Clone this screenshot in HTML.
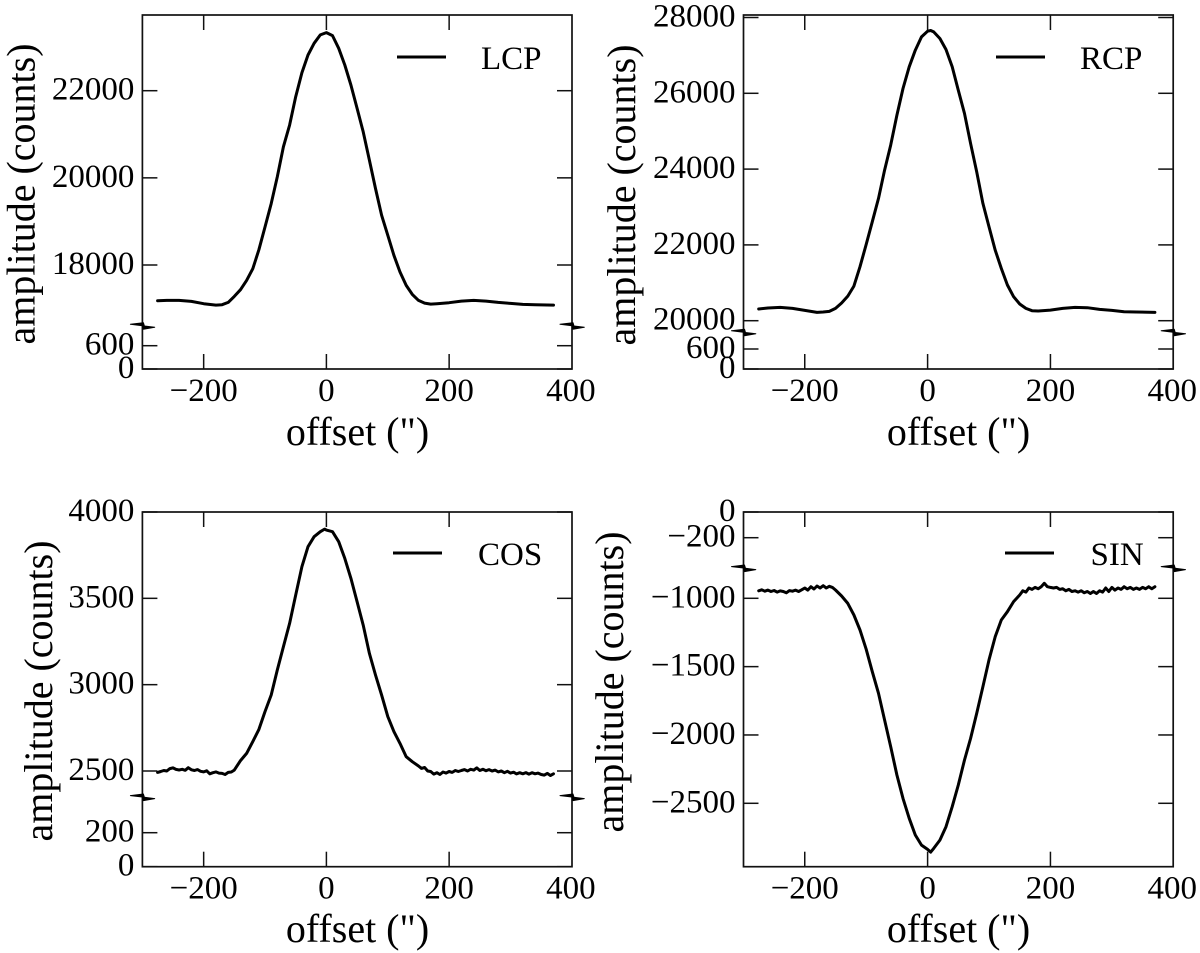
<!DOCTYPE html>
<html lang="en">
<head>
<meta charset="utf-8">
<title>Amplitude versus offset for LCP, RCP, COS and SIN</title>
<style>
html,body{margin:0;padding:0;background:#fff;width:1200px;height:953px;overflow:hidden}
svg{display:block}
text{font-family:"Liberation Serif",serif;fill:#000}
.tick-label{font-size:33px}
.axis-title{font-size:40px}
.legend-text{font-size:33px}
.frame{fill:none;stroke:#111;stroke-width:1.7}
.tick{stroke:#111;stroke-width:1.5}
.curve{fill:none;stroke:#000;stroke-width:3;stroke-linejoin:round;stroke-linecap:round}
.legend-line{stroke:#000;stroke-width:3}
</style>
</head>
<body>
<svg id="figure" xmlns="http://www.w3.org/2000/svg" width="1200" height="953" viewBox="0 0 1200 953">
  <rect width="1200" height="953" fill="#fff"/>

  <g id="panel-lcp">
    <rect class="frame" x="142.4" y="15" width="429.6" height="354"/>
    <text class="axis-title" transform="translate(34.5,194) rotate(-90)" text-anchor="middle">amplitude (counts)</text>
    <text class="axis-title" x="357.5" y="445" text-anchor="middle">offset (")</text>
    <line class="legend-line" x1="397" x2="446" y1="57" y2="57"/>
    <text class="legend-text" x="481" y="69">LCP</text>
  </g>

  <g id="panel-rcp">
    <rect class="frame" x="743.5" y="15" width="429.7" height="354"/>
    <text class="axis-title" transform="translate(635,195) rotate(-90)" text-anchor="middle">amplitude (counts)</text>
    <text class="axis-title" x="958.5" y="445" text-anchor="middle">offset (")</text>
    <line class="legend-line" x1="996" x2="1045" y1="57" y2="57"/>
    <text class="legend-text" x="1080" y="69">RCP</text>
  </g>

  <g id="panel-cos">
    <rect class="frame" x="142.4" y="512" width="429.6" height="354.7"/>
    <text class="axis-title" transform="translate(52,691) rotate(-90)" text-anchor="middle">amplitude (counts)</text>
    <text class="axis-title" x="357.5" y="942" text-anchor="middle">offset (")</text>
    <line class="legend-line" x1="393" x2="442" y1="553" y2="553"/>
    <text class="legend-text" x="478" y="565">COS</text>
  </g>

  <g id="panel-sin">
    <rect class="frame" x="743.5" y="512" width="429.7" height="354.7"/>
    <text class="axis-title" transform="translate(623,682) rotate(-90)" text-anchor="middle">amplitude (counts)</text>
    <text class="axis-title" x="958.5" y="942" text-anchor="middle">offset (")</text>
    <line class="legend-line" x1="1005" x2="1054" y1="553" y2="553"/>
    <text class="legend-text" x="1090.5" y="565">SIN</text>
  </g>
</svg>

<script>
// ---- shared x axis ----
const xTickValues = [-200, 0, 200, 400];
const xTickLabels = ['\u2212200', '0', '200', '400'];

// ---- LCP ----
const lcpOffsets = [-275,-260,-240,-220,-200,-180,-170,-160,-150,-140,-130,-120,-110,-100,-90,-80,-70,-60,-50,-40,-30,-20,-10,0,10,20,30,40,50,60,70,80,90,100,110,120,130,140,150,160,170,180,200,220,240,260,280,300,320,340,370];
const lcpValues = [17180,17188,17188,17165,17111,17080,17088,17142,17280,17433,17647,17916,18352,18873,19410,20023,20713,21211,21862,22414,22820,23088,23280,23333,23264,22973,22590,22130,21594,21057,20406,19755,19142,18682,18222,17839,17532,17326,17188,17126,17103,17111,17134,17172,17188,17172,17142,17118,17095,17088,17080];
const lcpTickValues = [0, 600, 18000, 20000, 22000];
const lcpTickLabels = ['0', '600', '18000', '20000', '22000'];

// ---- RCP ----
const rcpOffsets = [-275,-260,-240,-220,-200,-180,-170,-160,-150,-140,-130,-120,-110,-100,-90,-80,-70,-60,-50,-40,-30,-20,-10,0,5,10,20,30,40,50,60,70,80,90,100,110,120,130,140,150,160,170,180,200,220,240,260,280,300,320,340,370];
const rcpValues = [20308,20334,20352,20325,20272,20220,20229,20246,20325,20466,20650,20914,21424,22013,22611,23226,23973,24632,25423,26127,26698,27137,27489,27639,27656,27621,27445,27155,26698,26083,25467,24676,23929,23094,22479,21863,21380,20941,20633,20440,20325,20264,20255,20281,20325,20352,20343,20299,20272,20237,20229,20220];
const rcpTickValues = [0, 600, 20000, 22000, 24000, 26000, 28000];
const rcpTickLabels = ['0', '600', '20000', '22000', '24000', '26000', '28000'];

// ---- COS ----
const cosOffsets = [-275,-270,-265,-260,-255,-250,-245,-240,-235,-230,-225,-220,-215,-210,-205,-200,-195,-190,-185,-180,-175,-170,-165,-160,-155,-150,-140,-130,-120,-110,-100,-90,-80,-70,-60,-50,-40,-30,-20,-10,-3,0,10,20,30,40,50,60,70,80,90,100,110,120,130,140,150,155,160,165,170,175,180,185,190,195,200,205,210,215,220,225,230,235,240,245,250,255,260,265,270,275,280,285,290,295,300,305,310,315,320,325,330,335,340,345,350,355,360,365,370];
const cosValues = [2492,2497,2503,2500,2514,2518,2509,2506,2510,2504,2519,2507,2503,2508,2498,2495,2501,2484,2490,2495,2488,2486,2480,2492,2494,2505,2560,2602,2670,2741,2844,2940,3085,3220,3355,3519,3683,3799,3857,3886,3901,3895,3886,3828,3731,3616,3480,3345,3181,3056,2940,2815,2728,2660,2583,2554,2529,2515,2520,2500,2497,2482,2490,2480,2494,2488,2497,2492,2503,2497,2503,2508,2500,2510,2505,2518,2503,2510,2502,2508,2500,2505,2495,2500,2490,2498,2488,2493,2483,2490,2484,2491,2482,2490,2484,2488,2480,2476,2486,2474,2484];
const cosTickValues = [0, 200, 2500, 3000, 3500, 4000];
const cosTickLabels = ['0', '200', '2500', '3000', '3500', '4000'];

// ---- SIN ----
const sinOffsets = [-275,-270,-265,-260,-255,-250,-245,-240,-235,-230,-225,-220,-215,-210,-205,-200,-195,-190,-185,-180,-175,-170,-165,-160,-155,-150,-140,-130,-120,-110,-100,-90,-80,-70,-60,-50,-40,-30,-20,-10,0,5,10,20,30,40,50,60,70,80,90,100,110,120,130,140,150,155,160,165,170,175,180,185,190,195,200,205,210,215,220,225,230,235,240,245,250,255,260,265,270,275,280,285,290,295,300,305,310,315,320,325,330,335,340,345,350,355,360,365,370];
const sinValues = [-945,-938,-948,-940,-950,-943,-955,-946,-950,-960,-944,-948,-940,-950,-938,-925,-940,-915,-932,-910,-925,-908,-925,-912,-920,-939,-983,-1037,-1122,-1232,-1373,-1537,-1695,-1891,-2086,-2293,-2464,-2610,-2732,-2806,-2837,-2857,-2830,-2769,-2671,-2525,-2366,-2183,-2025,-1842,-1647,-1451,-1281,-1159,-1098,-1024,-976,-945,-955,-925,-935,-920,-930,-915,-890,-915,-920,-925,-920,-935,-930,-945,-935,-950,-945,-955,-945,-960,-950,-965,-950,-965,-945,-955,-925,-950,-920,-940,-925,-935,-915,-930,-920,-935,-925,-935,-920,-930,-915,-930,-915];
const sinTickValues = [-2500, -2000, -1500, -1000, -200, 0];
const sinTickLabels = ['\u22122500', '\u22122000', '\u22121500', '\u22121000', '\u2212200', '0'];

const NS = 'http://www.w3.org/2000/svg';

function make(tag, parent, props, text) {
  const el = document.createElementNS(NS, tag);
  for (const k in props) el.setAttribute(k, props[k]);
  if (text !== undefined) el.textContent = text;
  parent.appendChild(el);
  return el;
}

// A y axis with a break: two linear pieces joined at splitValue.
function brokenScale(splitValue, lowA, lowAy, lowB, lowBy, highA, highAy, highB, highBy) {
  return function (v) {
    if (v < splitValue) return lowAy + (v - lowA) * (lowBy - lowAy) / (lowB - lowA);
    return highAy + (v - highA) * (highBy - highAy) / (highB - highA);
  };
}

function linearX(zeroPx, pxPerUnit) {
  return function (o) { return zeroPx + o * pxPerUnit; };
}

function drawPanel(opts) {
  const g = document.getElementById(opts.id);
  const name = opts.name;
  const x = opts.x, y = opts.y;

  opts.yTicks.forEach(function (v, i) {
    const py = y(v);
    const left = make('line', g, { class: 'tick', x1: opts.left, x2: opts.left + 15, y1: py, y2: py });
    
    
    const right = make('line', g, { class: 'tick', x1: opts.right - 15, x2: opts.right, y1: py, y2: py });
    
    
    const label = make('text', g, { class: 'tick-label', x: opts.left - 8, y: py + 9, 'text-anchor': 'end' }, opts.yLabels[i]);
    
    
  });

  xTickValues.forEach(function (v, i) {
    const px = x(v);
    if (i < xTickValues.length - 1) {
      const bottom = make('line', g, { class: 'tick', x1: px, x2: px, y1: opts.bottom - 15, y2: opts.bottom });
      
      
      const top = make('line', g, { class: 'tick', x1: px, x2: px, y1: opts.top, y2: opts.top + 15 });
      
      
    }
    const label = make('text', g, { class: 'tick-label', x: px - (v === 400 ? 1 : 0), y: opts.bottom + 32, 'text-anchor': 'middle' }, xTickLabels[i]);
    
    
  });

  [opts.left, opts.right].forEach(function (ax, i) {
    const by = opts.breakY;
    const d = 'M' + (ax - 12) + ' ' + (by - 1.7) +
      'L' + (ax + 1) + ' ' + (by - 3.3) +
      'L' + (ax + 2) + ' ' + by +
      'L' + (ax + 12.3) + ' ' + (by + 1.3) +
      'L' + (ax + 1) + ' ' + (by + 3.3) +
      'L' + ax + ' ' + (by - 0.3) + 'Z';
    const mark = make('path', g, { d: d, fill: '#000', stroke: '#000', 'stroke-width': '1', 'stroke-linejoin': 'round' });
    
    
  });

  const pts = opts.offsets.map(function (o, i) {
    return x(o).toFixed(1) + ',' + y(opts.values[i]).toFixed(1);
  }).join(' ');
  const curve = make('polyline', g, { class: 'curve', points: pts });
  
  
}

drawPanel({
  id: 'panel-lcp', name: 'lcp',
  left: 142.4, right: 572, top: 15, bottom: 369, breakY: 326,
  x: linearX(326.4, 0.6137),
  y: brokenScale(5000, 0, 369, 600, 345.7, 18000, 265, 22000, 90.7),
  yTicks: lcpTickValues, yLabels: lcpTickLabels,
  offsets: lcpOffsets, values: lcpValues
});

drawPanel({
  id: 'panel-rcp', name: 'rcp',
  left: 743.5, right: 1173.2, top: 15, bottom: 369, breakY: 332.5,
  x: linearX(927.6, 0.6142),
  y: brokenScale(5000, 0, 369, 600, 349, 20000, 320.7, 26000, 93.3),
  yTicks: rcpTickValues, yLabels: rcpTickLabels,
  offsets: rcpOffsets, values: rcpValues
});

drawPanel({
  id: 'panel-cos', name: 'cos',
  left: 142.4, right: 572, top: 512, bottom: 866.7, breakY: 797.3,
  x: linearX(326.4, 0.6137),
  y: brokenScale(1000, 0, 866.7, 200, 832.7, 2500, 771, 4000, 512),
  yTicks: cosTickValues, yLabels: cosTickLabels,
  offsets: cosOffsets, values: cosValues
});

drawPanel({
  id: 'panel-sin', name: 'sin',
  left: 743.5, right: 1173.2, top: 512, bottom: 866.7, breakY: 568.3,
  x: linearX(927.6, 0.6142),
  y: brokenScale(-500, -2500, 803.3, -1000, 598.3, -200, 537.7, 0, 512),
  yTicks: sinTickValues, yLabels: sinTickLabels,
  offsets: sinOffsets, values: sinValues
});
</script>
</body>
</html>
